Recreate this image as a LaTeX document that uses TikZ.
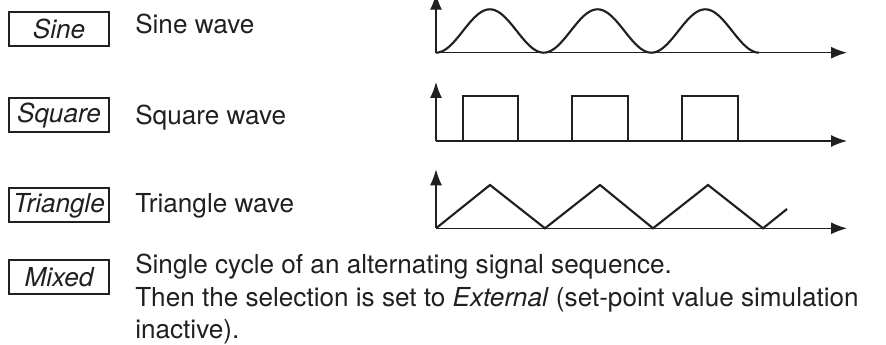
\documentclass[tikz,border=0pt]{standalone}
\usepackage{fontspec}
\setmainfont{TeX Gyre Heros}
\usetikzlibrary{arrows.meta}
\definecolor{tinta}{RGB}{35, 31, 32}
\newcommand{\tamanho}{\fontsize{19.6pt}{24.4pt}\selectfont}

\begin{document}
\begin{tikzpicture}[
    x=0.75pt,
    y=-0.75pt,
    caixa/.style={
        draw=tinta,
        line width=1.5pt,
        minimum width=75pt,
        minimum height=25.5pt,
        inner sep=0pt,
        text=tinta,
        font=\tamanho\itshape
    },
    descricao/.style={
        anchor=base west,
        inner sep=0pt,
        align=left,
        text=tinta,
        font=\tamanho
    },
    eixo/.style={
        draw=tinta,
        line width=1pt,
        -{Latex[length=12pt,width=9pt]}
    },
    onda/.style={
        draw=tinta,
        line width=1.6pt,
        line join=miter
    }
]

\useasboundingbox (0,0) rectangle (886,345);

% ---------------- Sine ----------------

\node[caixa] (sine) at (59,28.7) {Sine};

\node[descricao] (sinetxt) at (135,34) {Sine wave};

\coordinate (osine) at (436,52.7);

\draw[eixo] (osine) -- ++(0,-59);
\draw[eixo] (osine) -- ++(411,0);

\draw[onda]
    plot[domain=0:3, samples=121, smooth]
    ({436+107.7*\x}, {52.7-21.7*(1-cos(360*\x))});

% ---------------- Square ----------------

\node[caixa] (square) at (59,115.5) {Square};

\node[descricao] (squaretxt) at (135,125) {Square wave};

\coordinate (osquare) at (436,141);

\draw[eixo] (osquare) -- ++(0,-59);
\draw[eixo] (osquare) -- ++(411,0);

\draw[onda] (osquare)
    -- (462.7,141) -- (462.7,96) -- (517.7,96) -- (517.7,141)
    -- (571.7,141) -- (571.7,96) -- (627.7,96) -- (627.7,141)
    -- (681.7,141) -- (681.7,96) -- (737.7,96) -- (737.7,141)
    -- (762.7,141);

% ---------------- Triangle ----------------

\node[caixa] (triangle) at (59,205.5) {Triangle};

\node[descricao] (triangletxt) at (135,213) {Triangle wave};

\coordinate (otriangle) at (436,228.3);

\draw[eixo] (otriangle) -- ++(0,-59);
\draw[eixo] (otriangle) -- ++(411,0);

\draw[onda] (otriangle)
    -- (490,185) -- (545,228.3) -- (600,185) -- (653,228.3)
    -- (708,185) -- (763,228.3) -- (787,209);

% ---------------- Mixed ----------------

\node[caixa] (mixed) at (59,277.5) {Mixed};

% base of a multi-line node sits on its last line
\node[descricao] (mixedtxt) at (135,339)
{
    Single cycle of an alternating signal sequence.\\
    Then the selection is set to \textit{External} (set-point value simulation\\
    inactive).
};

\end{tikzpicture}
\end{document}
